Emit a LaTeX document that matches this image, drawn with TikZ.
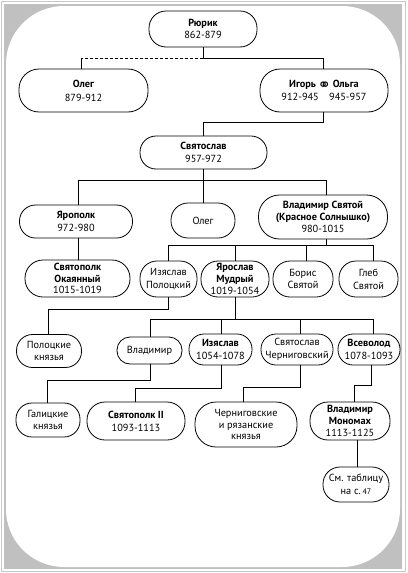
\documentclass[tikz,border=0pt]{standalone}
\usepackage{fontspec}
\setmainfont{PT Sans}
\newfontfamily\dejavu{DejaVu Sans}
\definecolor{frameGray}{RGB}{192,192,192}
\definecolor{lineGray}{RGB}{200,200,200}
\begin{document}
\begin{tikzpicture}[x=1pt,y=-1pt,
  famnode/.style={draw, line width=0.8pt, align=center, inner sep=0pt,
     font=\fontsize{10.3}{11.8}\selectfont},
  sz/.style 2 args={minimum width=#1, minimum height=#2},
  conn/.style={line width=0.8pt}]
\useasboundingbox (0,0) rectangle (407,573);
% frame
\fill[frameGray] (4,4) rectangle (402,569);
\fill[white, rounded corners=58] (6,6) rectangle (400,567);
\draw[lineGray, line width=1pt] (1.5,1.5) rectangle (405.5,571.5);

% nodes
\node[famnode, sz={108}{36}, rounded corners=17] (rurik) at (203,29) {\textbf{Рюрик}\\[1pt]862-879};
\node[famnode, sz={129}{43}, rounded corners=20] (oleg) at (83.5,90.5) {\textbf{Олег}\\[2pt]879-912};
\node[famnode, sz={128}{43}, rounded corners=20] (igor) at (324,90.5) {\textbf{Игорь\,\raisebox{-2.5pt}{\dejavu\fontsize{16}{16}\selectfont ⚭}\,Ольга}\\[1pt]912-945\quad 945-957};
\node[famnode, sz={127}{33}, rounded corners=16] (svyatoslav) at (203.5,152.5) {\textbf{Святослав}\\[1pt]957-972};
\node[famnode, sz={113}{33}, rounded corners=16] (yaropolk) at (76,221.5) {\textbf{Ярополк}\\[1pt]972-980};
\node[famnode, sz={64}{35}, rounded corners=17] (oleg2) at (203,220.5) {Олег};
\node[famnode, sz={129}{44}, rounded corners=21] (vladimir) at (323,217) {\textbf{Владимир Святой}\\\textbf{(Красное Солнышко)}\\980-1015};
\node[famnode, sz={105}{37}, rounded corners=18] (svyatopolk) at (77.5,278.5) {\textbf{Святополк}\\\textbf{Окаянный}\\1015-1019};
\node[famnode, sz={57}{36}, rounded corners=17] (izyaslavP) at (168.5,279) {Изяслав\\[1pt]Полоцкий};
\node[famnode, sz={68}{36}, rounded corners=17] (yaroslav) at (235,279) {\textbf{Ярослав}\\\textbf{Мудрый}\\1019-1054};
\node[famnode, sz={60}{36}, rounded corners=17] (boris) at (303,279) {Борис\\[1pt]Святой};
\node[famnode, sz={59}{36}, rounded corners=17] (gleb) at (368.5,279) {Глеб\\[1pt]Святой};
\node[famnode, sz={65}{33}, rounded corners=16] (polotsk) at (49,351) {Полоцкие\\[1pt]князья};
\node[famnode, sz={65}{27}, rounded corners=13] (vladimir2) at (149.5,350.5) {Владимир};
\node[famnode, sz={63}{31}, rounded corners=15] (izyaslav) at (220.5,349.5) {\textbf{Изяслав}\\[1pt]1054-1078};
\node[famnode, sz={72}{31}, rounded corners=15] (svyatoslavC) at (297,349.5) {Святослав\\[1pt]Черниговский};
\node[famnode, sz={62}{31}, rounded corners=15] (vsevolod) at (369,349.5) {\textbf{Всеволод}\\[1pt]1078-1093};
\node[famnode, sz={64}{34}, rounded corners=16] (galich) at (48,420) {Галицкие\\[1pt]князья};
\node[famnode, sz={98}{38}, rounded corners=18] (svyatopolk2) at (136,421) {\textbf{Святополк II}\\[1pt]1093-1113};
\node[famnode, sz={102}{45}, rounded corners=21] (chernigov) at (246,424.5) {Черниговские\\и рязанские\\князья};
\node[famnode, sz={80}{38}, rounded corners=18] (monomakh) at (350,421) {\textbf{Владимир}\\\textbf{Мономах}\\1113-1125};
\node[famnode, sz={66}{35}, rounded corners=17] (table) at (356,484.5) {См. таблицу\\[1pt]на с.\,{\fontsize{8}{8}\selectfont 47}};

% junction coordinates
\coordinate (jA0) at (203,58); \coordinate (jA1) at (81,58); \coordinate (jA2) at (323,58);
\coordinate (jB0) at (323,122); \coordinate (jB1) at (203,122);
\coordinate (jC0) at (203,180); \coordinate (jC1) at (78,180); \coordinate (jC3) at (326,180);
\coordinate (jD) at (78,0);
\coordinate (jE0) at (326,245); \coordinate (jE1) at (168,245); \coordinate (jE2) at (235,245);
\coordinate (jE3) at (306,245); \coordinate (jE4) at (373,245);
\coordinate (jF0) at (168,309); \coordinate (jF1) at (48,309);
\coordinate (jG0) at (235,319); \coordinate (jG1) at (150,319); \coordinate (jG2) at (221,319);
\coordinate (jG3) at (300,319); \coordinate (jG4) at (373,319);
\coordinate (jH0) at (150,380); \coordinate (jH1) at (47,380);
\coordinate (jI0) at (221,388); \coordinate (jI1) at (135,388);
\coordinate (jJ0) at (300,387); \coordinate (jJ1) at (243,387);
\coordinate (jK0) at (371,385); \coordinate (jK1) at (354,385);
\coordinate (jL) at (357,0);

% connectors
\draw[conn] (jA0 |- rurik.south) -- (jA0);
\draw[conn, dash pattern=on 3pt off 2pt] (jA0) -- (jA1);
\draw[conn] (jA1) -- (jA1 |- oleg.north);
\draw[conn] (jA0) -- (jA2) -- (jA2 |- igor.north);

\draw[conn] (jB0 |- igor.south) -- (jB0) -- (jB1) -- (jB1 |- svyatoslav.north);

\draw[conn] (jC0 |- svyatoslav.south) -- (jC0 |- oleg2.north);
\draw[conn] (jC1 |- yaropolk.north) -- (jC1) -- (jC3) -- (jC3 |- vladimir.north);

\draw[conn] (jD |- yaropolk.south) -- (jD |- svyatopolk.north);

\draw[conn] (jE0 |- vladimir.south) -- (jE0);
\draw[conn] (jE1 |- izyaslavP.north) -- (jE1) -- (jE4) -- (jE4 |- gleb.north);
\draw[conn] (jE2) -- (jE2 |- yaroslav.north);
\draw[conn] (jE3) -- (jE3 |- boris.north);

\draw[conn] (jF0 |- izyaslavP.south) -- (jF0) -- (jF1) -- (jF1 |- polotsk.north);

\draw[conn] (jG0 |- yaroslav.south) -- (jG0);
\draw[conn] (jG1 |- vladimir2.north) -- (jG1) -- (jG4) -- (jG4 |- vsevolod.north);
\draw[conn] (jG2) -- (jG2 |- izyaslav.north);
\draw[conn] (jG3) -- (jG3 |- svyatoslavC.north);

\draw[conn] (jH0 |- vladimir2.south) -- (jH0) -- (jH1) -- (jH1 |- galich.north);
\draw[conn] (jI0 |- izyaslav.south) -- (jI0) -- (jI1) -- (jI1 |- svyatopolk2.north);
\draw[conn] (jJ0 |- svyatoslavC.south) -- (jJ0) -- (jJ1) -- (jJ1 |- chernigov.north);
\draw[conn] (jK0 |- vsevolod.south) -- (jK0) -- (jK1) -- (jK1 |- monomakh.north);
\draw[conn] (jL |- monomakh.south) -- (jL |- table.north);
\end{tikzpicture}
\end{document}
